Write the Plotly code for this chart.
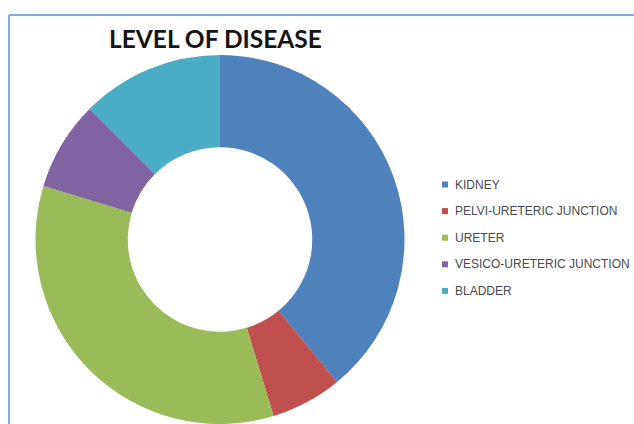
import plotly.graph_objects as go

# Sites of disease and patient counts
categories = ["KIDNEY", "PELVI-URETERIC JUNCTION", "URETER",
              "VESICO-URETERIC JUNCTION", "BLADDER"]
counts = [25, 4, 22, 5, 8]
colors = ["#4F81BD", "#C0504D", "#9BBB59", "#8064A2", "#4BACC6"]

W, H = 634, 424

fig = go.Figure(go.Pie(
    labels=categories,
    values=counts,
    marker=dict(colors=colors, line=dict(width=0)),
    hole=0.5,
    sort=False,
    direction="clockwise",
    rotation=0,
    textinfo="none",
    showlegend=False,
    domain=dict(x=[35.5 / W, 404.5 / W], y=[0, 1 - 55 / H]),
))

# Chart frame (top and left edges of the chart area)
frame = "#7FAEE3"
fig.add_shape(type="line", xref="paper", yref="paper",
              x0=9 / W, x1=1.0, y0=1 - 15 / H, y1=1 - 15 / H,
              line=dict(color=frame, width=2))
fig.add_shape(type="line", xref="paper", yref="paper",
              x0=9 / W, x1=9 / W, y0=1 - 15 / H, y1=0,
              line=dict(color=frame, width=2))

# Title
fig.add_annotation(text="<b>LEVEL OF DISEASE</b>", xref="paper", yref="paper",
                   x=215 / W, y=1 - 38 / H, xanchor="center", yanchor="middle",
                   showarrow=False,
                   font=dict(family="Lato, Liberation Sans", size=24.5, color="#151515"))

# Legend: square swatch + label for each category
leg_x, leg_y0, leg_dy, sw = 445, 184.5, 26.6, 6
for i, (name, col) in enumerate(zip(categories, colors)):
    yc = leg_y0 + i * leg_dy
    fig.add_shape(type="rect", xref="paper", yref="paper",
                  x0=(leg_x - sw / 2) / W, x1=(leg_x + sw / 2) / W,
                  y0=1 - (yc + sw / 2) / H, y1=1 - (yc - sw / 2) / H,
                  fillcolor=col, line=dict(width=0))
    fig.add_annotation(text=name, xref="paper", yref="paper",
                       x=453 / W, y=1 - yc / H, xanchor="left", yanchor="middle",
                       showarrow=False,
                       font=dict(family="Liberation Sans", size=12, color="#4a4a4a"))

fig.update_layout(
    width=W, height=H,
    margin=dict(l=0, r=0, t=0, b=0),
    paper_bgcolor="white",
    plot_bgcolor="white",
)

fig.write_html("out.html")
